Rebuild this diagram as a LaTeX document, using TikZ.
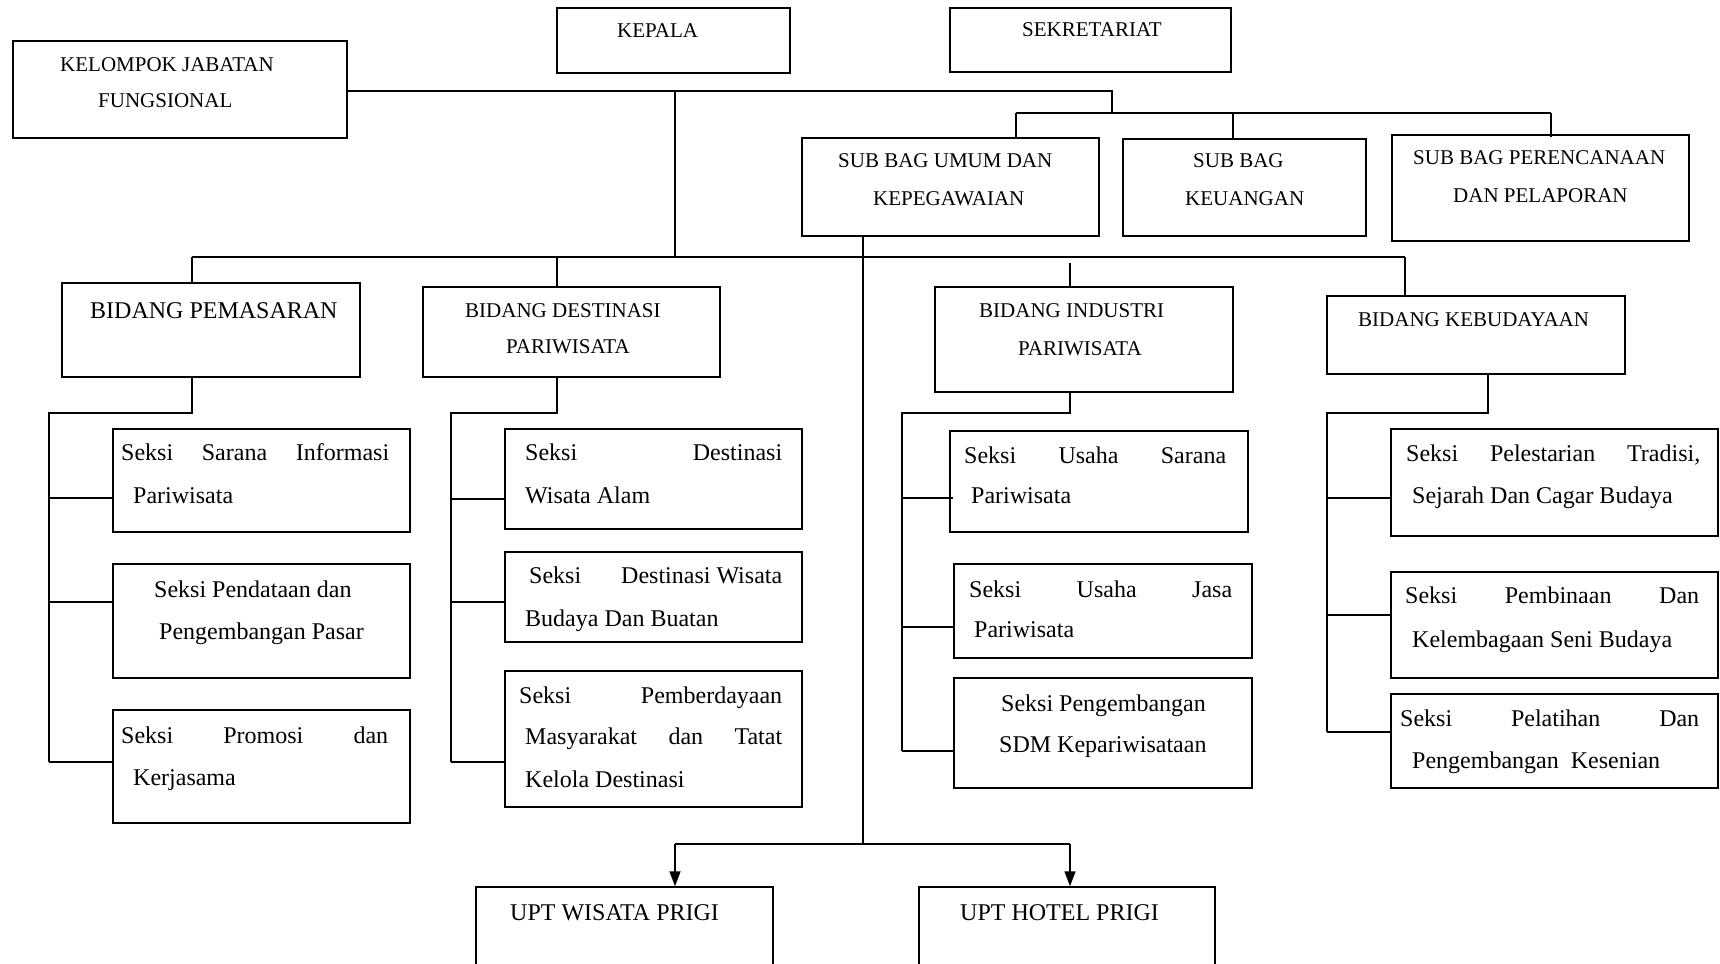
\documentclass[tikz,border=0pt]{standalone}
\usepackage{fontspec}
\setmainfont{Liberation Serif}
\usetikzlibrary{fit,arrows.meta}
\newcommand\bx[5]{\node[box,fit={(#2,#3) (#4,#5)}] (#1) {};}
\begin{document}
\begin{tikzpicture}[x=1pt,y=-1pt,
  box/.style={draw,line width=1.5pt,inner sep=0pt,rectangle},
  hd/.style={anchor=base west,inner sep=0pt,font=\fontsize{21}{25}\selectfont},
  hb/.style={anchor=base west,inner sep=0pt,font=\fontsize{24}{28}\selectfont},
  sk/.style={anchor=base west,inner sep=0pt,font=\fontsize{24}{28}\selectfont},
  ln/.style={line width=1.5pt},
  arr/.style={ln,-{Triangle[length=15pt,width=11pt]}}]
\useasboundingbox (0,0) rectangle (1720,963);
\fill[white] (0,0) rectangle (1720,963);
\clip (0,0) rectangle (1720,963);

% ---------- boxes ----------
\bx{kelompok}{13}{41}{347}{138}
\bx{kepala}{557}{8}{790}{73}
\bx{sekretariat}{950}{8}{1231}{72}
\bx{umum}{802}{138}{1099}{236}
\bx{keuangan}{1123}{139}{1366}{236}
\bx{perencanaan}{1392}{135}{1689}{241}
\bx{pemasaran}{62}{283}{360}{377}
\bx{destinasi}{423}{287}{720}{377}
\bx{industri}{935}{287}{1233}{392}
\bx{kebudayaan}{1327}{296}{1625}{374}
\bx{s11}{113}{429}{410}{532}
\bx{s12}{113}{564}{410}{678}
\bx{s13}{113}{710}{410}{823}
\bx{s21}{505}{429}{802}{529}
\bx{s22}{505}{552}{802}{642}
\bx{s23}{505}{671}{802}{807}
\bx{s31}{950}{431}{1248}{532}
\bx{s32}{954}{564}{1252}{658}
\bx{s33}{954}{678}{1252}{788}
\bx{s41}{1391}{429}{1718}{536}
\bx{s42}{1391}{572}{1718}{678}
\bx{s43}{1391}{694}{1718}{788}
\bx{wisata}{476}{887}{773}{995}
\bx{hotel}{919}{887}{1215}{995}

% ---------- texts ----------
\node[hd] (t1) at (617,38) {KEPALA};
\node[hd] (t2) at (1022,37) {SEKRETARIAT};
\node[hd] (t3) at (60,72) {KELOMPOK JABATAN};
\node[hd] (t4) at (98,107) {FUNGSIONAL};
\node[hd] (t5) at (838,167) {SUB BAG UMUM DAN};
\node[hd] (t6) at (873,205) {KEPEGAWAIAN};
\node[hd] (t7) at (1193,167) {SUB BAG};
\node[hd] (t8) at (1185,205) {KEUANGAN};
\node[hd] (t9) at (1413,164) {SUB BAG PERENCANAAN};
\node[hd] (t10) at (1453,202) {DAN PELAPORAN};
\node[hb] (t11) at (90,318) {BIDANG PEMASARAN};
\node[hd] (t12) at (465,317) {BIDANG DESTINASI};
\node[hd] (t13) at (506,353) {PARIWISATA};
\node[hd] (t14) at (979,317) {BIDANG INDUSTRI};
\node[hd] (t15) at (1018,355) {PARIWISATA};
\node[hd] (t16) at (1358,326) {BIDANG KEBUDAYAAN};

\node[sk] (t17) at (121,460) {\makebox[268pt][s]{Seksi\hfill Sarana\hfill Informasi}};
\node[sk] (t18) at (133,503) {Pariwisata};
\node[sk] (t19) at (154,597) {Seksi Pendataan dan};
\node[sk] (t20) at (159,639) {Pengembangan Pasar};
\node[sk] (t21) at (121,743) {\makebox[267pt][s]{Seksi\hfill Promosi\hfill dan}};
\node[sk] (t22) at (133,785) {Kerjasama};

\node[sk] (t23) at (525,460) {\makebox[257pt][s]{Seksi\hfill Destinasi}};
\node[sk] (t24) at (525,503) {Wisata Alam};
\node[sk] (t25) at (529,583) {\makebox[253pt][s]{Seksi\hfill Destinasi Wisata}};
\node[sk] (t26) at (525,626) {Budaya Dan Buatan};
\node[sk] (t27) at (519,703) {\makebox[263pt][s]{Seksi\hfill Pemberdayaan}};
\node[sk] (t28) at (525,744) {\makebox[257pt][s]{Masyarakat\hfill dan\hfill Tatat}};
\node[sk] (t29) at (525,787) {Kelola Destinasi};

\node[sk] (t30) at (964,463) {\makebox[262pt][s]{Seksi\hfill Usaha\hfill Sarana}};
\node[sk] (t31) at (971,503) {Pariwisata};
\node[sk] (t32) at (969,597) {\makebox[263pt][s]{Seksi\hfill Usaha\hfill Jasa}};
\node[sk] (t33) at (974,637) {Pariwisata};
\node[sk] (t34) at (1001,711) {Seksi Pengembangan};
\node[sk] (t35) at (999,752) {SDM Kepariwisataan};

\node[sk] (t36) at (1406,461) {\makebox[294pt][s]{Seksi\hfill Pelestarian\hfill Tradisi,}};
\node[sk] (t37) at (1412,503) {Sejarah Dan Cagar Budaya};
\node[sk] (t38) at (1405,603) {\makebox[294pt][s]{Seksi\hfill Pembinaan\hfill Dan}};
\node[sk] (t39) at (1412,647) {Kelembagaan Seni Budaya};
\node[sk] (t40) at (1400,726) {\makebox[299pt][s]{Seksi\hfill Pelatihan\hfill Dan}};
\node[sk] (t41) at (1412,768) {Pengembangan\ \ Kesenian};

\node[hb] (t42) at (510,920) {UPT WISATA PRIGI};
\node[hb] (t43) at (960,920) {UPT HOTEL PRIGI};

% ---------- top connectors ----------
\coordinate (a1) at (1112,91);
\coordinate (a2) at (1112,113);
\coordinate (sbL) at (1016,113);
\coordinate (sbM) at (1233,113);
\coordinate (sbR) at (1551,113);
\draw[ln] (kelompok.east |- a1) -- (a1) -- (a2);
\draw[ln] (sbL) -- (sbR);
\draw[ln] (sbL) -- (sbL |- umum.north);
\draw[ln] (sbM) -- (sbM |- keuangan.north);
\draw[ln] (sbR) -- ([yshift=-3pt]sbR |- perencanaan.north);

\coordinate (k1) at (675,91);
\coordinate (k2) at (675,257);
\draw[ln] (k1) -- (k2);
\coordinate (bL) at (192,257);
\coordinate (bD) at (557,257);
\coordinate (bI) at (1070,263);
\coordinate (bR) at (1405,257);
\draw[ln] (bL) -- (bR);
\draw[ln] (bL) -- (bL |- pemasaran.north);
\draw[ln] (bD) -- (bD |- destinasi.north);
\draw[ln] (bI) -- (bI |- industri.north);
\draw[ln] (bR) -- (bR |- kebudayaan.north);

% ---------- UPT ----------
\coordinate (m1) at (863,844);
\coordinate (u1) at (675,844);
\coordinate (u2) at (1070,844);
\draw[ln] (m1 |- umum.south) -- (m1);
\draw[ln] (u1) -- (u2);
\draw[arr] (u1) -- (u1 |- wisata.north);
\draw[arr] (u2) -- (u2 |- hotel.north);

% ---------- PEMASARAN ----------
\coordinate (p0) at (192,413);
\coordinate (p1) at (49,413);
\coordinate (pa) at (49,498);
\coordinate (pb) at (49,602);
\coordinate (pc) at (49,762);
\draw[ln] (p0 |- pemasaran.south) -- (p0) -- (p1) -- (pc);
\draw[ln] (pa) -- (pa -| s11.west);
\draw[ln] (pb) -- (pb -| s12.west);
\draw[ln] (pc) -- (pc -| s13.west);

% ---------- DESTINASI ----------
\coordinate (d0) at (557,413);
\coordinate (d1) at (451,413);
\coordinate (da) at (451,499);
\coordinate (db) at (451,602);
\coordinate (dc) at (451,762);
\draw[ln] (d0 |- destinasi.south) -- (d0) -- (d1) -- (dc);
\draw[ln] (da) -- (da -| s21.west);
\draw[ln] (db) -- (db -| s22.west);
\draw[ln] (dc) -- (dc -| s23.west);

% ---------- INDUSTRI ----------
\coordinate (i0) at (1070,413);
\coordinate (i1) at (902,413);
\coordinate (ia) at (902,498);
\coordinate (ib) at (902,627);
\coordinate (ic) at (902,751);
\draw[ln] (i0 |- industri.south) -- (i0) -- (i1) -- (ic);
\draw[ln] (ia) -- ([xshift=4pt]ia -| s31.west);
\draw[ln] (ib) -- (ib -| s32.west);
\draw[ln] (ic) -- (ic -| s33.west);

% ---------- KEBUDAYAAN ----------
\coordinate (c0) at (1488,413);
\coordinate (c1) at (1327,413);
\coordinate (ca) at (1327,498);
\coordinate (cb) at (1327,615);
\coordinate (cc) at (1327,732);
\draw[ln] (c0 |- kebudayaan.south) -- (c0) -- (c1) -- (cc);
\draw[ln] (ca) -- (ca -| s41.west);
\draw[ln] (cb) -- (cb -| s42.west);
\draw[ln] (cc) -- (cc -| s43.west);
\end{tikzpicture}
\end{document}
